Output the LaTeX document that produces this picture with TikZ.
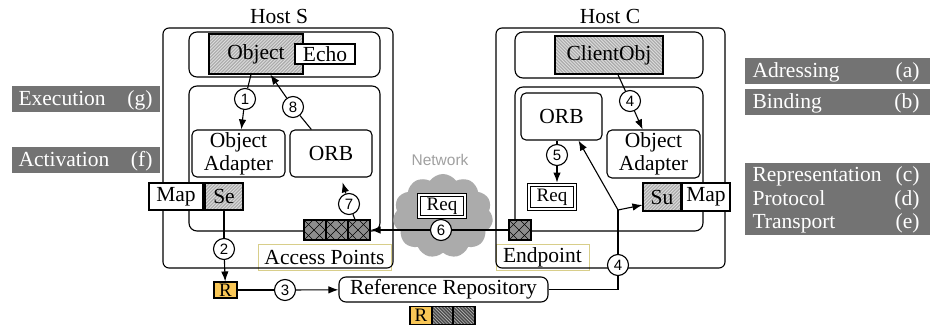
\documentclass[tikz,border=0pt]{standalone}
\usepackage{fontspec}
\setmainfont{Liberation Serif}
\newfontfamily\numfont{Liberation Sans}
\usetikzlibrary{arrows.meta,shapes.symbols,calc}
\definecolor{lblgray}{HTML}{737373}
\definecolor{hatchgray}{HTML}{ABABAB}
\definecolor{hatchline}{HTML}{DCDCDC}
\definecolor{darkhatch}{HTML}{B4B4B4}
\definecolor{darkline}{HTML}{4A4A4A}
\definecolor{apgray}{HTML}{8E8E8E}
\definecolor{refyellow}{HTML}{F8C656}
\definecolor{lblborder}{HTML}{D8CE8A}
\definecolor{cloudgray}{HTML}{ABABAB}
\definecolor{netgray}{HTML}{A0A0A0}
\begin{document}
\begin{tikzpicture}[x=1pt,y=-1pt,
  font=\fontsize{21.5}{23}\selectfont, line width=1.1pt,
  box/.style={draw, inner sep=0pt, fill=white},
  rbox/.style={draw, inner sep=0pt, fill=white, rounded corners=5pt},
  hostbox/.style={draw, inner sep=0pt, rounded corners=6pt},
  circ/.style={circle, draw, fill=white, inner sep=0pt, minimum size=21pt,
    font=\numfont\fontsize{15}{15}\selectfont},
  arr/.style={-{Latex[length=10pt,width=7.5pt]}},
  lbl/.style={fill=lblgray, inner sep=0pt},
  lbltxt/.style={text=white, inner sep=0pt},
  tag/.style={draw=lblborder, line width=0.9pt, inner sep=0pt},
  hatchR/.style={draw, inner sep=0pt, fill=hatchgray,
    path picture={\foreach \i in {-60,-56.7,...,120}
      \draw[hatchline, line width=0.9pt] ([xshift=\i pt]path picture bounding box.south west) -- ++(70,-70);}},
  hatchL/.style={draw, inner sep=0pt, fill=hatchgray,
    path picture={\foreach \i in {-60,-56.7,...,120}
      \draw[hatchline, line width=0.9pt] ([xshift=\i pt]path picture bounding box.north west) -- ++(70,70);}},
  darkbox/.style={draw, inner sep=0pt, fill=darkhatch,
    path picture={\foreach \i in {-30,-26.7,...,30}
      \draw[darkline, line width=1.4pt] ([xshift=\i pt]path picture bounding box.north west) -- ++(30,30);}},
  apbox/.style={draw, inner sep=0pt, fill=apgray,
    path picture={\foreach \i in {-22,-11,...,33}{
      \draw[black, line width=0.6pt] ([xshift=\i pt]path picture bounding box.south west) -- ++(30,-30);
      \draw[black, line width=0.6pt] ([xshift=\i pt]path picture bounding box.north west) -- ++(30,30);}}},
  reqbox/.style={draw, double=white, double distance=2.2pt, line width=0.9pt,
    inner sep=0pt, font=\fontsize{19}{20}\selectfont},
  yel/.style={draw, fill=refyellow, inner sep=0pt, font=\fontsize{19}{20}\selectfont}
]
\useasboundingbox (0,0) rectangle (935,326);

% ---- side labels ----
\node[lbl, minimum width=148, minimum height=26] (lexec) at (86,99) {};
\node[lbltxt, anchor=base west] (lexecA) at (18,106) {Execution};
\node[lbltxt, anchor=base east] (lexecB) at (153,106) {(g)};
\node[lbl, minimum width=148, minimum height=26] (lact) at (86,160) {};
\node[lbltxt, anchor=base west] (lactA) at (18,167) {Activation};
\node[lbltxt, anchor=base east] (lactB) at (153,167) {(f)};

\node[lbl, minimum width=185, minimum height=26] (ladr) at (837.5,71) {};
\node[lbltxt, anchor=base west] (ladrA) at (752,78) {Adressing};
\node[lbltxt, anchor=base east] (ladrB) at (920,78) {(a)};
\node[lbl, minimum width=185, minimum height=26] (lbin) at (837.5,102) {};
\node[lbltxt, anchor=base west] (lbinA) at (752,109) {Binding};
\node[lbltxt, anchor=base east] (lbinB) at (920,109) {(b)};
\node[lbl, minimum width=185, minimum height=72] (lrep) at (837.5,199) {};
\node[lbltxt, anchor=base west] (lrepA) at (752,182) {Representation};
\node[lbltxt, anchor=base east] (lrepB) at (920,182) {(c)};
\node[lbltxt, anchor=base west] (lproA) at (752,205.5) {Protocol};
\node[lbltxt, anchor=base east] (lproB) at (920,205.5) {(d)};
\node[lbltxt, anchor=base west] (ltraA) at (752,229) {Transport};
\node[lbltxt, anchor=base east] (ltraB) at (920,229) {(e)};

% ---- tag labels (under the host frames) ----
\node[tag, minimum width=133, minimum height=26] (aplbl) at (324.5,257) {Access Points};
\node[tag, minimum width=93, minimum height=26] (eplbl) at (542.5,257) {Endpoint};

% ---- hosts ----
\node (hostSlbl) at (279,16) {Host S};
\node (hostClbl) at (610,16) {Host C};
\node[hostbox, minimum width=230, minimum height=240] (hostS) at (278,148) {};
\node[hostbox, minimum width=229, minimum height=240] (hostC) at (610.5,148) {};

% Host S inner
\node[rbox, rounded corners=8pt, minimum width=191, minimum height=45] (Stop) at (284.5,54.5) {};
\node[rbox, rounded corners=8pt, minimum width=191, minimum height=145] (Slow) at (284.5,158.5) {};
\node[hatchR, minimum width=94, minimum height=40] (Obj) at (256,54) {Object};
\node[box, minimum width=60, minimum height=20] (Echo) at (325,54) {Echo};
\node[rbox, minimum width=93, minimum height=47, align=center] (OAS) at (238.5,153.5) {Object\\Adapter};
\node[rbox, minimum width=82, minimum height=47] (ORBS) at (331,153.5) {ORB};
\node[box, minimum width=54, minimum height=27] (MapS) at (176,196.5) {Map};
\node[hatchR, minimum width=38, minimum height=27] (Se) at (224,196.5) {Se};
\node[apbox, minimum width=22, minimum height=20] (AP1) at (315,230) {};
\node[apbox, minimum width=22, minimum height=20] (AP2) at (337,230) {};
\node[apbox, minimum width=22, minimum height=20] (AP3) at (359,230) {};

% Host C inner
\node[rbox, rounded corners=8pt, minimum width=188, minimum height=46] (Ctop) at (609,55) {};
\node[rbox, rounded corners=8pt, minimum width=188, minimum height=144] (Clow) at (609,159) {};
\node[hatchL, minimum width=108, minimum height=38] (CO) at (609,55) {ClientObj};
\node[rbox, minimum width=81, minimum height=47] (ORBC) at (561.5,116.5) {ORB};
\node[rbox, minimum width=93, minimum height=48, align=center] (OAC) at (653.5,154) {Object\\Adapter};
\node[reqbox, fill=white, minimum width=46, minimum height=24] (reqC) at (552,197) {Req};
\node[hatchR, minimum width=38, minimum height=28] (Su) at (662,197) {Su};
\node[box, minimum width=48, minimum height=28] (MapC) at (706,197) {Map};
\node[apbox, minimum width=22, minimum height=20] (EP) at (520,230) {};

% network
\node[cloud, cloud puffs=11, cloud puff arc=110, aspect=1.2, fill=cloudgray,
  minimum width=100, minimum height=84, inner sep=0pt] (cloud) at (443,216) {};
\node[font=\numfont\fontsize{15.5}{16}\selectfont, text=netgray] (net) at (440,160) {Network};
\node[reqbox, fill=white, minimum width=46, minimum height=22] (reqN) at (442,206) {Req};

% repository
\node[yel, minimum width=23, minimum height=16] (R1) at (225.5,290) {R};
\node[rbox, rounded corners=7pt, minimum width=209, minimum height=25] (RR) at (443.5,289.5) {Reference Repository};
\node[yel, minimum width=22, minimum height=18] (R2) at (421,315.5) {R};
\node[darkbox, minimum width=21, minimum height=18] (H1) at (442.5,315.5) {};
\node[darkbox, minimum width=22, minimum height=18] (H2) at (464,315.5) {};

% circles
\node[circ] (c1) at (245,99) {1};
\node[circ] (c8) at (293,107) {8};
\node[circ] (c2) at (224,249) {2};
\node[circ] (c3) at (285,290) {3};
\node[circ] (c7) at (349,204) {7};
\node[circ] (c6) at (441,230) {6};
\node[circ] (c5) at (557,155) {5};
\node[circ] (c4a) at (630,101) {4};
\node[circ] (c4b) at (618,265) {4};
\coordinate (br) at (618,210);

% connectors
\draw (Obj) -- (c1);
\draw[arr] (c1) -- (OAS);
\draw (ORBS) -- (c8);
\draw[arr] (c8) -- (Obj);
\draw (Se) -- (c2);
\draw[arr] (c2) -- (R1);
\draw (R1) -- (c3);
\draw[arr] (c3) -- (RR);
\draw (EP) -- (c6);
\draw[arr] (c6) -- (AP3);
\draw (AP3) -- (c7);
\draw[arr, shorten >=5pt] (c7) -- ($(ORBS.south)+(10,0)$);
\draw (CO) -- (c4a);
\draw[arr] (c4a) -- (OAC);
\draw (ORBC.south -| c5) -- (c5);
\draw[arr, shorten >=2pt] (c5) -- (c5 |- reqC.north);
\draw (RR.east) -- (c4b |- RR.east) -- (c4b);
\draw (c4b) -- (br);
\draw[arr] (br) -- ($(ORBC.south)+(17,0)$);
\draw[arr] (br) -- ($(Su.west)+(0,8)$);
\end{tikzpicture}
\end{document}
